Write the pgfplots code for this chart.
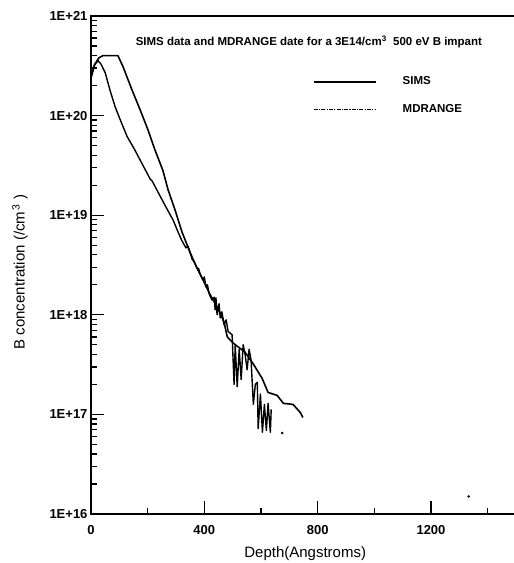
\documentclass[border=0pt]{standalone}
\usepackage{fontspec}
\setmainfont{Liberation Sans}
\usepackage{pgfplots}
\pgfplotsset{compat=1.18}
\usetikzlibrary{calc}

% depth in Angstroms, concentration in /cm^3
\pgfplotstableread{
x y
0   2.4e20
14  3.3e20
28  3.8e20
42  4.0e20
95  4.0e20
113 3.1e20
145 1.8e20
173 1.15e20
201 7.2e19
226 4.5e19
254 2.8e19
272 1.8e19
297 1.12e19
321 6.8e18
350 4.2e18
374 2.95e18
395 2.25e18
420 1.6e18
445 1.2e18
462 9.5e17
470 8.3e17
481 6.0e17
502 5.2e17
544 4.2e17
573 3.2e17
604 2.3e17
625 1.66e17
657 1.55e17
679 1.29e17
713 1.26e17
738 1.05e17
748 9.3e16
}\sims

\pgfplotstableread{
x y
0   2.4e20
11  3.2e20
25  3.55e20
35  3.3e20
50  2.7e20
67  1.8e20
85  1.23e20
103 9.1e19
127 6.2e19
155 4.5e19
180 3.3e19
209 2.3e19
216 2.2e19
233 1.78e19
261 1.26e19
290 8.9e18
307 6.8e18
320 5.6e18
335 4.7e18
342 4.9e18
350 4.2e18
357 3.6e18
364 3.4e18
374 2.95e18
380 2.9e18
385 2.57e18
395 2.24e18
400 2.4e18
406 1.9e18
411 2.0e18
417 1.62e18
427 1.41e18
435 1.5e18
438 1.12e18
441 1.48e18
445 1.0e18
452 1.29e18
456 9.3e17
462 1.07e18
470 7.9e17
477 8.9e17
484 6.8e17
498 6.3e17
505 2.0e17
509 5.0e17
516 1.9e17
523 4.5e17
530 2.24e17
537 5.0e17
544 4.0e17
551 2.8e17
558 4.5e17
565 3.5e17
573 1.26e17
580 2.0e17
587 2.1e17
590 7.2e16
598 1.6e17
605 6.6e16
612 1.26e17
619 6.9e16
625 1.29e17
633 6.6e16
636 1.12e17
}\mdrange

\begin{document}
\begin{tikzpicture}
\begin{axis}[
  name=ax,
  scale only axis,
  width=425pt, height=498pt,
  xmin=0, xmax=1500,
  ymode=log, log basis y=10,
  ymin=1e16, ymax=1e21,
  xtick={0,400,800,1200},
  xticklabels={0,400,800,1200},
  minor xtick={200,600,1000,1400},
  ytick={1e16,1e17,1e18,1e19,1e20,1e21},
  yticklabels={1E+16,1E+17,1E+18,1E+19,1E+20,1E+21},
  minor ytick={2e16,3e16,4e16,5e16,6e16,7e16,8e16,9e16,
               2e17,3e17,4e17,5e17,6e17,7e17,8e17,9e17,
               2e18,3e18,4e18,5e18,6e18,7e18,8e18,9e18,
               2e19,3e19,4e19,5e19,6e19,7e19,8e19,9e19,
               2e20,3e20,4e20,5e20,6e20,7e20,8e20,9e20},
  tick align=inside,
  xtick pos=bottom,
  ytick pos=left,
  major tick length=13pt,
  minor tick length=6pt,
  ytick style={black, line width=1.3pt},
  xtick style={black, line width=1.1pt},
  axis line style={line width=1.1pt},
  xticklabel style={font=\bfseries\fontsize{13}{13}\selectfont, yshift=-8pt},
  yticklabel style={font=\bfseries\fontsize{13}{13}\selectfont},
  xlabel={Depth(Angstroms)},
  ylabel={B concentration (/cm\textsuperscript{\,3} )},
  xlabel style={font=\fontsize{15}{15}\selectfont,
    at={(axis description cs:0.504,-0.08)}, anchor=center},
  ylabel style={font=\fontsize{15}{15}\selectfont,
    at={(axis description cs:-0.167,0.486)}, anchor=center},
  legend style={at={(axis description cs:0.515,0.886)}, anchor=north west,
    draw=none, fill=none, font=\bfseries\fontsize{11.5}{13}\selectfont,
    row sep=14pt, column sep=24pt},
  legend cell align=left,
  legend image code/.code={\draw[#1] (0pt,0pt) -- (62pt,0pt);},
]
\addplot[black, line width=1.6pt, line join=round, forget plot] table {\sims};
\addplot[black, line width=1.4pt, line join=round, forget plot] table {\mdrange};
\addplot[black, only marks, mark=*, mark size=1pt, forget plot] coordinates {(675,6.5e16) (1333,1.5e16)};

\addlegendimage{black, line width=1.6pt}
\addlegendentry{SIMS}
\addlegendimage{black, line width=1pt, dash pattern=on 4pt off 1.2pt on 1.2pt off 1.2pt}
\addlegendentry{MDRANGE}

\node[anchor=west, font=\bfseries\fontsize{11.5}{13}\selectfont]
  at (rel axis cs:0.097,0.948)
  {SIMS data and MDRANGE date for a 3E14/cm\textsuperscript{3}\ \ 500 eV B impant};
\end{axis}
\pgfresetboundingbox
\path ($(ax.south west)+(-91pt,-49pt)$) rectangle ($(ax.south west)+(423pt,514pt)$);
\end{tikzpicture}
\end{document}
